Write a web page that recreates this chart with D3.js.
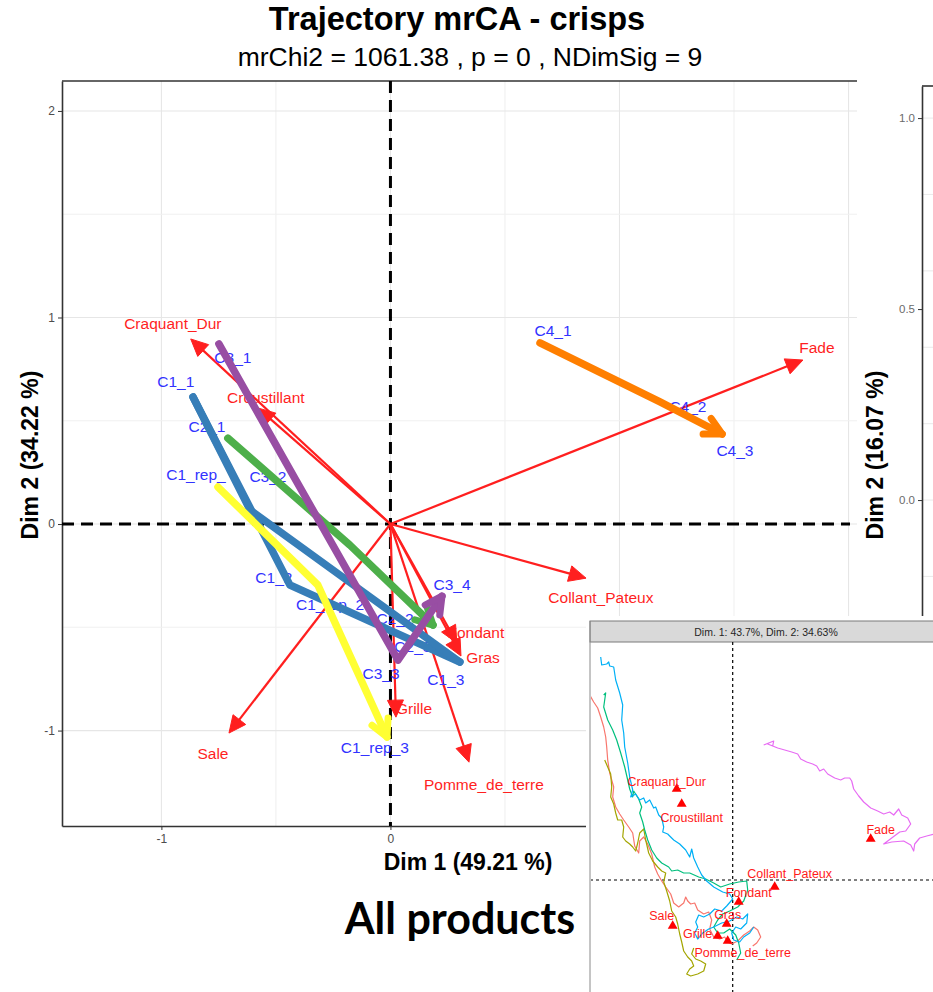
<!DOCTYPE html>
<html>
<head>
<meta charset="utf-8">
<script src="https://cdn.jsdelivr.net/npm/d3@7"></script>
<style>
  html, body { margin: 0; padding: 0; background: #fff; }
  svg { display: block; }
  text { font-family: "Liberation Sans", Arial, sans-serif; }
</style>
</head>
<body>
<svg id="chart" width="933" height="992"></svg>
<script>
// ---------------- Main mrCA map: sensory attributes (red arrows) ----------------
const variableNames  = ["Craquant_Dur", "Croustillant", "Fade", "Collant_Pateux", "Fondant", "Gras", "Grille", "Sale", "Pomme_de_terre"];
const variableDim1   = [-0.872, -0.579, 1.801, 0.854, 0.290, 0.308, 0.024, -0.705, 0.343];
const variableDim2   = [ 0.896,  0.562, 0.794, -0.262, -0.576, -0.639, -0.935, -1.012, -1.153];
const variableLabelDim1 = [-0.950, -0.544, 1.862, 0.919, 0.373, 0.404, 0.103, -0.775, 0.408];
const variableLabelDim2 = [ 0.973,  0.615, 0.857, -0.358, -0.523, -0.644, -0.891, -1.109, -1.259];

// ---------------- Product trajectories (successive time periods) ----------------
const trajectoryProducts = ["C1", "C1", "C2", "C1_rep", "C3", "C4"];
const trajectoryDim1 = [
  [-0.862, -0.439, 0.303],
  [-0.862, -0.613, 0.303],
  [-0.710, -0.177, 0.186],
  [-0.753, -0.317, -0.015],
  [-0.749, -0.413, 0.033, 0.225],
  [ 0.653,  1.177, 1.448]
];
const trajectoryDim2 = [
  [0.615, -0.295, -0.668],
  [0.615,  0.068, -0.668],
  [0.416, -0.102, -0.489],
  [0.179, -0.295, -1.031],
  [0.872,  0.213, -0.659, -0.349],
  [0.877,  0.591,  0.436]
];

// period labels of the trajectories
const periodLabels = ["C1_1", "C1_2", "C1_3", "C1_rep_", "C1_rep_2", "C1_rep_3", "C2_1", "C2_2", "C2_3",
                      "C3_1", "C3_2", "C3_3", "C3_4", "C4_1", "C4_2", "C4_3"];
const periodLabelDim1 = [-0.937, -0.509, 0.242, -0.849, -0.264, -0.068, -0.801, 0.020, 0.098,
                         -0.688, -0.535, -0.041, 0.269, 0.710, 1.299, 1.504];
const periodLabelDim2 = [ 0.688, -0.257, -0.755, 0.242, -0.392, -1.080, 0.470, -0.455, -0.591,
                          0.804,  0.228, -0.722, -0.291, 0.939, 0.571, 0.354];

const mainXTicks = [-1, 0, 1, 2];
const mainYTicks = [-1, 0, 1, 2];
const rightYTicks = [0, 0.5, 1.0];

// ---------------- Inset: TDS-style trajectories (Dim. 1 / Dim. 2) ----------------
const insetTrackSalmon = [[-1.43,1.85],[-1.39,1.78],[-1.35,1.72],[-1.32,1.63],[-1.29,1.53],[-1.27,1.43],[-1.26,1.33],[-1.25,1.20],[-1.23,1.07],[-1.19,0.93],[-1.20,0.83],[-1.17,0.73],[-1.13,0.66],[-1.09,0.60],[-1.04,0.53],[-1.00,0.47],[-0.98,0.34],[-0.94,0.27],[-0.93,0.39],[-0.89,0.43],[-0.85,0.36],[-0.81,0.26],[-0.78,0.13],[-0.75,0.06],[-0.71,-0.01],[-0.67,-0.07],[-0.62,-0.14],[-0.59,-0.23],[-0.54,-0.27],[-0.49,-0.23],[-0.47,-0.17],[-0.45,-0.21],[-0.42,-0.24],[-0.38,-0.23],[-0.35,-0.30],[-0.29,-0.34],[-0.24,-0.32],[-0.21,-0.40],[-0.23,-0.49],[-0.19,-0.57],[-0.13,-0.59],[-0.08,-0.57],[-0.05,-0.62],[-0.01,-0.64],[0.05,-0.61],[0.11,-0.55],[0.17,-0.51],[0.21,-0.47],[0.25,-0.50],[0.28,-0.57],[0.24,-0.63],[0.20,-0.66]];
const insetTrackOlive = [[-1.28,1.20],[-1.25,1.13],[-1.22,1.06],[-1.21,0.93],[-1.22,0.83],[-1.19,0.76],[-1.17,0.67],[-1.15,0.60],[-1.11,0.60],[-1.09,0.53],[-1.10,0.43],[-1.07,0.39],[-1.03,0.36],[-1.00,0.33],[-0.97,0.29],[-0.95,0.37],[-0.93,0.47],[-0.89,0.51],[-0.87,0.40],[-0.84,0.27],[-0.80,0.19],[-0.75,0.13],[-0.71,0.09],[-0.67,0.07],[-0.69,-0.02],[-0.66,-0.11],[-0.63,-0.21],[-0.61,-0.31],[-0.57,-0.37],[-0.55,-0.44],[-0.53,-0.54],[-0.51,-0.62],[-0.49,-0.71],[-0.45,-0.77],[-0.41,-0.81],[-0.39,-0.86],[-0.43,-0.89],[-0.46,-0.94],[-0.42,-0.96],[-0.35,-0.94],[-0.29,-0.91],[-0.27,-0.84],[-0.32,-0.81],[-0.37,-0.79],[-0.41,-0.74],[-0.39,-0.68]];
const insetTrackGreen = [[-1.29,1.85],[-1.27,1.87],[-1.29,1.73],[-1.25,1.60],[-1.20,1.50],[-1.16,1.40],[-1.12,1.27],[-1.08,1.13],[-1.05,1.00],[-1.03,0.91],[-1.00,0.83],[-0.99,0.89],[-0.94,0.81],[-0.91,0.73],[-0.93,0.67],[-0.90,0.58],[-0.88,0.50],[-0.85,0.40],[-0.81,0.30],[-0.76,0.22],[-0.71,0.17],[-0.64,0.13],[-0.61,0.09],[-0.55,0.10],[-0.49,0.07],[-0.43,0.07],[-0.34,0.03],[-0.27,0.01],[-0.19,-0.03],[-0.12,-0.07],[-0.03,-0.04],[0.06,-0.02],[0.14,-0.01],[0.15,-0.10],[0.11,-0.21],[0.05,-0.27],[-0.03,-0.31],[-0.10,-0.34],[-0.15,-0.40],[-0.19,-0.47],[-0.15,-0.53],[-0.09,-0.53],[-0.03,-0.49],[0.03,-0.55],[0.06,-0.63],[0.08,-0.73],[0.04,-0.80]];
const insetTrackBlue = [[-1.32,2.23],[-1.31,2.15],[-1.26,2.16],[-1.24,2.18],[-1.23,2.14],[-1.19,2.13],[-1.17,2.00],[-1.13,1.87],[-1.10,1.75],[-1.11,1.60],[-1.09,1.47],[-1.08,1.33],[-1.05,1.17],[-1.03,1.03],[-1.00,0.90],[-1.02,0.83],[-0.97,0.86],[-0.93,0.80],[-0.89,0.82],[-0.87,0.77],[-0.83,0.80],[-0.79,0.72],[-0.77,0.73],[-0.74,0.65],[-0.71,0.62],[-0.69,0.53],[-0.70,0.48],[-0.65,0.46],[-0.59,0.40],[-0.53,0.36],[-0.47,0.30],[-0.43,0.23],[-0.41,0.31],[-0.39,0.22],[-0.35,0.13],[-0.31,0.05],[-0.26,-0.01],[-0.19,-0.07],[-0.10,-0.12],[-0.03,-0.14],[0.00,-0.19],[-0.06,-0.26],[-0.11,-0.31],[-0.18,-0.29],[-0.23,-0.34],[-0.29,-0.37],[-0.34,-0.35],[-0.37,-0.42],[-0.35,-0.47],[-0.38,-0.53],[-0.35,-0.59],[-0.30,-0.53],[-0.24,-0.49],[-0.19,-0.47],[-0.11,-0.43],[-0.03,-0.41],[0.04,-0.37],[0.10,-0.39],[0.15,-0.34],[0.14,-0.43],[0.08,-0.49],[0.03,-0.47],[-0.01,-0.53],[0.01,-0.60],[0.07,-0.62],[0.11,-0.57],[0.17,-0.53],[0.21,-0.47]];
const insetTrackPurple = [[0.31,1.35],[0.41,1.39],[0.40,1.34],[0.35,1.36],[0.45,1.32],[0.52,1.30],[0.59,1.28],[0.65,1.26],[0.68,1.21],[0.74,1.18],[0.80,1.16],[0.84,1.14],[0.87,1.09],[0.91,1.11],[0.95,1.06],[1.02,1.02],[1.08,1.00],[1.12,1.02],[1.17,1.02],[1.19,0.99],[1.21,0.91],[1.26,0.84],[1.31,0.78],[1.38,0.72],[1.45,0.69],[1.51,0.66],[1.57,0.68],[1.61,0.65],[1.66,0.71],[1.69,0.65],[1.75,0.62],[1.78,0.56],[1.73,0.49],[1.67,0.48],[1.59,0.42],[1.51,0.36],[1.59,0.38],[1.71,0.39],[1.78,0.35],[1.81,0.29],[1.82,0.36],[1.87,0.42],[1.94,0.44],[2.02,0.46]];

const insetVariableDim1 = [-0.56, -0.51, 1.38, 0.42, 0.06, -0.06, -0.15, -0.60, -0.05];
const insetVariableDim2 = [ 0.91,  0.76, 0.41, -0.07, -0.22, -0.44, -0.56, -0.46, -0.61];
const insetLabelDim1 = [-0.66, -0.41, 1.48, 0.57, 0.16, -0.05, -0.35, -0.71, 0.10];
const insetLabelDim2 = [ 0.98,  0.62, 0.50, 0.06, -0.13, -0.35, -0.54, -0.36, -0.73];

// ---------------- styles ----------------
const productColour = { "C1": "#377EB8", "C2": "#4DAF4A", "C3": "#984EA3", "C1_rep": "#FFFF33", "C4": "#FF7F00" };
const insetColours = ["#F8766D", "#A3A500", "#00BF7D", "#00B0F6", "#E76BF3"];
const attributeRed = "#ff1f1f";
const periodBlue = "#3232ff";

const svg = d3.select("#chart");

// ================= main panel =================
const x = d3.scaleLinear().domain([-1.434, 2.037]).range([62, 857]);
const y = d3.scaleLinear().domain([-1.462, 2.145]).range([826, 81]);

const main = svg.append("g");

// grid (major + minor)
main.append("g").selectAll("line").data(x.ticks(8)).join("line")
  .attr("x1", d => x(d)).attr("x2", d => x(d)).attr("y1", 81).attr("y2", 826)
  .attr("stroke", d => Number.isInteger(d) ? "#e6e6e6" : "#f0f0f0").attr("stroke-width", 1.1);
main.append("g").selectAll("line").data(y.ticks(8)).join("line")
  .attr("y1", d => y(d)).attr("y2", d => y(d)).attr("x1", 62).attr("x2", 857)
  .attr("stroke", d => Number.isInteger(d) ? "#e6e6e6" : "#f0f0f0").attr("stroke-width", 1.1);

// axes
const yAxis = main.append("g").attr("transform", "translate(62,0)")
  .call(d3.axisLeft(y).tickValues(mainYTicks).tickSize(4).tickSizeOuter(0).tickPadding(3).tickFormat(d => String(d)));
const xAxis = main.append("g").attr("transform", "translate(0,826)")
  .call(d3.axisBottom(x).tickValues(mainXTicks).tickSize(4).tickSizeOuter(0).tickPadding(4).tickFormat(d => String(d)));
[yAxis, xAxis].forEach(a => {
  a.select(".domain").attr("stroke", "#333").attr("stroke-width", 1.6);
  a.selectAll(".tick line").attr("stroke", "#333");
  a.selectAll(".tick text").attr("fill", "#4d4d4d").attr("font-size", 12).style("font-family", "'Liberation Sans', Arial, sans-serif");
});
main.append("line").attr("x1", 62).attr("x2", 857).attr("y1", 81).attr("y2", 81)
  .attr("stroke", "#333").attr("stroke-width", 1.6);

// dashed reference axes
main.append("line").attr("x1", x(0)).attr("x2", x(0)).attr("y1", 81).attr("y2", 826)
  .attr("stroke", "#000").attr("stroke-width", 3).attr("stroke-dasharray", "12,7");
main.append("line").attr("x1", 62).attr("x2", 850).attr("y1", y(0)).attr("y2", y(0))
  .attr("stroke", "#000").attr("stroke-width", 3).attr("stroke-dasharray", "12,7");

// attribute arrows
variableNames.forEach((name, i) => {
  const x0 = x(0), y0 = y(0), x1 = x(variableDim1[i]), y1 = y(variableDim2[i]);
  const a = Math.atan2(y1 - y0, x1 - x0), L = 17, hw = 8;
  const bx = x1 - L * Math.cos(a), by = y1 - L * Math.sin(a);
  main.append("line").attr("x1", x0).attr("y1", y0).attr("x2", bx + 2 * Math.cos(a)).attr("y2", by + 2 * Math.sin(a))
    .attr("stroke", attributeRed).attr("stroke-width", 2.2);
  const px = -Math.sin(a), py = Math.cos(a);
  main.append("path")
    .attr("d", `M${x1},${y1}L${bx + hw * px},${by + hw * py}L${bx - hw * px},${by - hw * py}Z`)
    .attr("fill", attributeRed).attr("stroke", attributeRed).attr("stroke-width", 1).attr("stroke-linejoin", "round");
});

// attribute labels
main.append("g").selectAll("text").data(variableNames).join("text")
  .attr("x", (d, i) => x(variableLabelDim1[i])).attr("y", (d, i) => y(variableLabelDim2[i]))
  .attr("text-anchor", "middle").attr("dominant-baseline", "central")
  .attr("font-size", 15.5).attr("fill", attributeRed).text(d => d);

// period labels
main.append("g").selectAll("text").data(periodLabels).join("text")
  .attr("x", (d, i) => x(periodLabelDim1[i])).attr("y", (d, i) => y(periodLabelDim2[i]))
  .attr("text-anchor", "middle").attr("dominant-baseline", "central")
  .attr("font-size", 15.5).attr("fill", periodBlue).text(d => d);

// trajectories; open arrow heads on the final period
const trajLine = d3.line().x(d => x(d[0])).y(d => y(d[1]));
trajectoryProducts.forEach((prod, i) => {
  const pts = trajectoryDim1[i].map((v, j) => [v, trajectoryDim2[i][j]]);
  const col = productColour[prod];
  main.append("path").attr("d", trajLine(pts)).attr("fill", "none")
    .attr("stroke", col).attr("stroke-width", 7.5)
    .attr("stroke-linecap", "round").attr("stroke-linejoin", "round");
  if (prod === "C1") return;
  const n = pts.length;
  const ax = x(pts[n - 2][0]), ay = y(pts[n - 2][1]);
  const bx = x(pts[n - 1][0]), by = y(pts[n - 1][1]);
  const ang = Math.atan2(by - ay, bx - ax), L = 19, s = Math.PI / 6.5;
  const p1 = [bx - L * Math.cos(ang - s), by - L * Math.sin(ang - s)];
  const p2 = [bx - L * Math.cos(ang + s), by - L * Math.sin(ang + s)];
  main.append("path").attr("d", `M${p1[0]},${p1[1]}L${bx},${by}L${p2[0]},${p2[1]}`)
    .attr("fill", "none").attr("stroke", col).attr("stroke-width", 7)
    .attr("stroke-linecap", "round").attr("stroke-linejoin", "round");
});

// titles
svg.append("text").attr("x", 457).attr("y", 30).attr("text-anchor", "middle")
  .attr("font-size", 32.5).attr("font-weight", "bold").attr("fill", "#000").text("Trajectory mrCA - crisps");
svg.append("text").attr("x", 470).attr("y", 66).attr("text-anchor", "middle")
  .attr("font-size", 26.5).attr("fill", "#000").text("mrChi2 = 1061.38 , p = 0 , NDimSig = 9");
svg.append("text").attr("x", 468).attr("y", 862).attr("text-anchor", "middle").attr("dominant-baseline", "central")
  .attr("font-size", 23).attr("font-weight", "bold").attr("fill", "#000").text("Dim 1 (49.21 %)");
svg.append("text").attr("transform", "translate(30,455) rotate(-90)").attr("text-anchor", "middle").attr("dominant-baseline", "central")
  .attr("font-size", 23).attr("font-weight", "bold").attr("fill", "#000").text("Dim 2 (34.22 %)");

// ================= right panel (Dim 2 of a second map) =================
const yR = d3.scaleLinear().domain([-0.314, 1.084]).range([620, 86]);
const right = svg.append("g");
right.append("g").selectAll("line").data(yR.ticks(6)).join("line")
  .attr("x1", 922).attr("x2", 933).attr("y1", d => yR(d)).attr("y2", d => yR(d))
  .attr("stroke", "#ebebeb").attr("stroke-width", 1.1);
const rAxis = right.append("g").attr("transform", "translate(922,0)")
  .call(d3.axisLeft(yR).tickValues(rightYTicks).tickSize(4).tickSizeOuter(0).tickPadding(3).tickFormat(d => d.toFixed(1)));
rAxis.select(".domain").attr("stroke", "#333").attr("stroke-width", 1.6);
rAxis.selectAll(".tick line").attr("stroke", "#333");
rAxis.selectAll(".tick text").attr("fill", "#6b6b6b").attr("font-size", 11.5).style("font-family", "'Liberation Sans', Arial, sans-serif");
right.append("line").attr("x1", 922).attr("x2", 933).attr("y1", 86).attr("y2", 86).attr("stroke", "#333").attr("stroke-width", 1.6);
right.append("text").attr("transform", "translate(875,455) rotate(-90)").attr("text-anchor", "middle").attr("dominant-baseline", "central")
  .attr("font-size", 23).attr("font-weight", "bold").attr("fill", "#000").text("Dim 2 (16.07 %)");

// ================= inset map =================
const inset = svg.append("g");
inset.append("rect").attr("x", 586).attr("y", 616).attr("width", 347).attr("height", 376).attr("fill", "#fff");
const xi = d3.scaleLinear().domain([-1.427, 2.003]).range([590, 933]);
const yi = d3.scaleLinear().domain([-1.12, 2.38]).range([992, 642]);

svg.append("defs").append("clipPath").attr("id", "insetClip")
  .append("rect").attr("x", 591).attr("y", 642).attr("width", 342).attr("height", 350);

// strip
inset.append("rect").attr("x", 590).attr("y", 621).attr("width", 345).attr("height", 21)
  .attr("fill", "#d9d9d9").attr("stroke", "#7a7a7a").attr("stroke-width", 1);
inset.append("text").attr("x", 766).attr("y", 632).attr("text-anchor", "middle").attr("dominant-baseline", "central")
  .attr("font-size", 10.5).attr("fill", "#262626").text("Dim. 1: 43.7%, Dim. 2: 34.63%");
inset.append("line").attr("x1", 590).attr("x2", 590).attr("y1", 621).attr("y2", 992).attr("stroke", "#8a8a8a").attr("stroke-width", 1);

const insetPlot = inset.append("g").attr("clip-path", "url(#insetClip)");
insetPlot.append("line").attr("x1", xi(0)).attr("x2", xi(0)).attr("y1", 642).attr("y2", 992)
  .attr("stroke", "#000").attr("stroke-width", 1.2).attr("stroke-dasharray", "3,3");
insetPlot.append("line").attr("x1", 590).attr("x2", 933).attr("y1", yi(0)).attr("y2", yi(0))
  .attr("stroke", "#000").attr("stroke-width", 1.2).attr("stroke-dasharray", "3,3");

const insetLine = d3.line().x(d => xi(d[0])).y(d => yi(d[1]));
[insetTrackSalmon, insetTrackOlive, insetTrackGreen, insetTrackBlue, insetTrackPurple].forEach((track, i) => {
  insetPlot.append("path").attr("d", insetLine(track)).attr("fill", "none")
    .attr("stroke", insetColours[i]).attr("stroke-width", 1.2).attr("stroke-linejoin", "round");
});

insetPlot.append("g").selectAll("path").data(variableNames).join("path")
  .attr("transform", (d, i) => `translate(${xi(insetVariableDim1[i])},${yi(insetVariableDim2[i])})`)
  .attr("d", d3.symbol().type(d3.symbolTriangle).size(42)).attr("fill", "#ff0000");
insetPlot.append("g").selectAll("text").data(variableNames).join("text")
  .attr("x", (d, i) => xi(insetLabelDim1[i])).attr("y", (d, i) => yi(insetLabelDim2[i]))
  .attr("text-anchor", "middle").attr("dominant-baseline", "central")
  .attr("font-size", 12.5).attr("fill", "#ff1a1a").text(d => d);

// caption
svg.append("text").attr("x", 460).attr("y", 934).attr("text-anchor", "middle")
  .style("font-family", "Lato, 'Open Sans', sans-serif").attr("font-weight", 700)
  .attr("font-size", 43).attr("fill", "#000").text("All products");
</script>
</body>
</html>
